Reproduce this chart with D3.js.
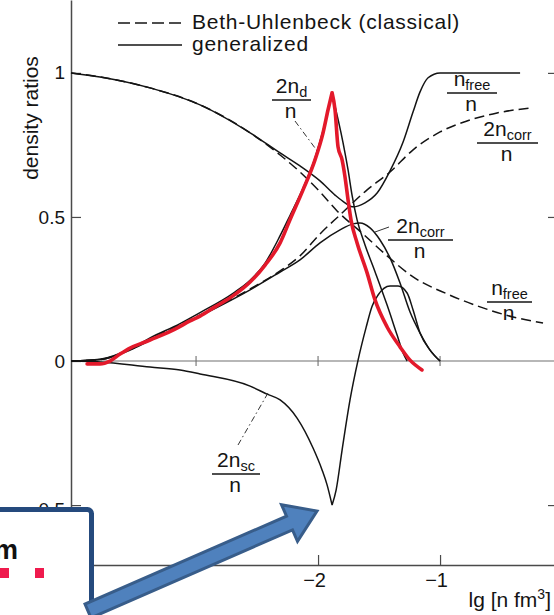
<!DOCTYPE html>
<html>
<head>
<meta charset="utf-8">
<script src="https://cdn.jsdelivr.net/npm/d3@7"></script>
<style>
  html, body { margin: 0; padding: 0; background: #fff; }
  svg { display: block; }
</style>
</head>
<body>
<svg id="chart" width="554" height="615"></svg>
<script>
// ---- density ratios vs lg(n fm^3) ----
// generalized free-nucleon fraction n_free/n
const nFreeGen = [[-4.025,1.0],[-3.787,0.986],[-3.377,0.948],[-2.967,0.889],[-2.557,0.792],[-2.311,0.722],[-2.148,0.677],[-1.984,0.625],[-1.861,0.576],[-1.779,0.549],[-1.713,0.535],[-1.615,0.549],[-1.516,0.583],[-1.410,0.660],[-1.303,0.760],[-1.221,0.865],[-1.164,0.934],[-1.098,0.983],[-1.0,1.0],[-0.836,1.0],[-0.344,1.0]];
// Beth-Uhlenbeck (classical) n_free/n
const nFreeClass = [[-4.025,1.0],[-3.787,0.986],[-3.377,0.948],[-2.967,0.889],[-2.557,0.792],[-2.311,0.715],[-2.148,0.656],[-1.984,0.587],[-1.844,0.521],[-1.631,0.441],[-1.434,0.365],[-1.221,0.292],[-0.943,0.233],[-0.672,0.188],[-0.402,0.153],[-0.156,0.132]];
// Beth-Uhlenbeck (classical) 2n_corr/n
const corrClass = [[-4.025,0],[-3.787,0.005],[-3.541,0.04],[-3.377,0.075],[-2.967,0.160],[-2.557,0.250],[-2.311,0.3125],[-2.148,0.365],[-1.984,0.441],[-1.820,0.507],[-1.598,0.594],[-1.410,0.656],[-1.221,0.733],[-1.0,0.795],[-0.779,0.833],[-0.533,0.861],[-0.262,0.878]];
// generalized 2n_corr/n
const corrGen = [[-4.025,0],[-3.787,0.005],[-3.541,0.038],[-3.377,0.072],[-2.967,0.156],[-2.557,0.247],[-2.311,0.309],[-2.148,0.351],[-1.984,0.410],[-1.820,0.455],[-1.713,0.476],[-1.656,0.479],[-1.574,0.462],[-1.492,0.420],[-1.410,0.358],[-1.328,0.271],[-1.246,0.170],[-1.164,0.097],[-1.082,0.038],[-1.0,0]];
// generalized bound-state part 2n_d/n
const dGen = [[-4.025,0],[-3.787,0.006],[-3.541,0.042],[-3.377,0.08],[-3.131,0.13],[-2.967,0.168],[-2.697,0.235],[-2.557,0.28],[-2.434,0.34],[-2.311,0.435],[-2.230,0.505],[-2.123,0.60],[-2.025,0.705],[-1.959,0.80],[-1.918,0.87],[-1.885,0.927],[-1.795,0.757],[-1.754,0.663],[-1.721,0.575],[-1.680,0.490],[-1.615,0.403],[-1.533,0.31],[-1.434,0.194],[-1.352,0.09],[-1.303,0.028],[-1.270,0]];
// generalized scattering part 2n_sc/n
const scGen = [[-4.025,0],[-3.787,-0.003],[-3.377,-0.021],[-3.131,-0.031],[-2.967,-0.045],[-2.557,-0.087],[-2.418,-0.115],[-2.311,-0.135],[-2.172,-0.198],[-2.041,-0.302],[-1.967,-0.378],[-1.926,-0.430],[-1.885,-0.5],[-1.852,-0.448],[-1.803,-0.309],[-1.738,-0.135],[-1.672,0.003],[-1.607,0.115],[-1.557,0.190],[-1.508,0.229],[-1.410,0.260],[-1.344,0.260],[-1.270,0.236],[-1.221,0.177],[-1.164,0.097],[-1.082,0.038],[-1.0,0]];
// hand-drawn red trace over the 2n_d peak
const redTrace = [[-3.893,-0.010],[-3.787,-0.010],[-3.705,0],[-3.623,0.024],[-3.541,0.045],[-3.418,0.066],[-3.295,0.087],[-3.172,0.111],[-3.049,0.139],[-2.967,0.156],[-2.844,0.188],[-2.697,0.226],[-2.557,0.274],[-2.434,0.333],[-2.311,0.410],[-2.230,0.490],[-2.123,0.594],[-2.025,0.698],[-1.959,0.792],[-1.918,0.872],[-1.885,0.931],[-1.861,0.872],[-1.836,0.743],[-1.803,0.698],[-1.779,0.639],[-1.754,0.559],[-1.730,0.490],[-1.680,0.410],[-1.598,0.306],[-1.533,0.212],[-1.434,0.118],[-1.328,0.049],[-1.246,0.003],[-1.148,-0.031]];

// axis ticks
const yTickValues = [1, 0.5, 0, -0.5];
const yTickLabels = ["1", "0.5", "0", "\u22120.5"];
const xTickValues = [-3, -2, -1];
const xTickLabels = ["", "\u22122", "\u22121"];

const svg = d3.select("#chart");
svg.append("rect").attr("width", 554).attr("height", 615).attr("fill", "#fff");

const x = d3.scaleLinear().domain([-4.025, -0.066]).range([71, 554]);
const y = d3.scaleLinear().domain([-0.708, 1.253]).range([565, 0]);

const FONT = "'Liberation Sans', Arial, sans-serif";
const INK = "#141414";

// ---- axes ----
const yAxis = d3.axisLeft(y)
  .tickValues(yTickValues)
  .tickFormat((d, i) => yTickLabels[i])
  .tickSizeInner(-10).tickSizeOuter(0).tickPadding(6);
const gy = svg.append("g").attr("transform", `translate(${x.range()[0]},0)`).call(yAxis);
gy.select(".domain").attr("stroke", "#4a4a4a").attr("stroke-width", 1.5);
gy.selectAll(".tick line").attr("stroke", "#4a4a4a").attr("stroke-width", 1.2);
gy.selectAll(".tick text").attr("font-family", FONT).attr("font-size", 19).attr("fill", INK)
  .attr("dy", d => d === -0.5 ? "0.55em" : "0.32em");

const xAxis = d3.axisBottom(x)
  .tickValues(xTickValues)
  .tickFormat((d, i) => xTickLabels[i])
  .tickSizeInner(-10).tickSizeOuter(0).tickPadding(8);
const gx = svg.append("g").attr("transform", `translate(0,${y.range()[0]})`).call(xAxis);
gx.select(".domain").attr("stroke", "#4a4a4a").attr("stroke-width", 1.5);
gx.selectAll(".tick line").attr("stroke", "#4a4a4a").attr("stroke-width", 1.2);
gx.selectAll(".tick text").attr("font-family", FONT).attr("font-size", 20).attr("fill", INK)
  .attr("dx", "-0.2em");

// inward ticks on the right frame
const yRight = d3.axisRight(y).tickValues([1, 0.5, -0.5]).tickFormat(() => "")
  .tickSizeInner(-8).tickSizeOuter(0);
const gr = svg.append("g").attr("transform", "translate(556,0)").call(yRight);
gr.select(".domain").remove();
gr.selectAll(".tick line").attr("stroke", "#4a4a4a").attr("stroke-width", 1.2);

// zero line with small cross ticks
svg.append("line")
  .attr("x1", x.range()[0]).attr("x2", x.range()[1])
  .attr("y1", y(0)).attr("y2", y(0))
  .attr("stroke", "#707070").attr("stroke-width", 1.1);
svg.selectAll(".zt").data(xTickValues).enter().append("line")
  .attr("x1", d => x(d)).attr("x2", d => x(d))
  .attr("y1", y(0) - 5).attr("y2", y(0) + 5)
  .attr("stroke", "#707070").attr("stroke-width", 1.1);

// axis titles
svg.append("text")
  .attr("transform", "translate(38,118) rotate(-90)")
  .attr("text-anchor", "middle")
  .attr("font-family", FONT).attr("font-size", 21).attr("fill", INK)
  .text("density ratios");
const xt = svg.append("text")
  .attr("x", 551).attr("y", 607).attr("text-anchor", "end")
  .attr("font-family", FONT).attr("font-size", 21).attr("fill", INK);
xt.append("tspan").text("lg [n fm");
xt.append("tspan").attr("font-size", 14).attr("dy", -8).text("3");
xt.append("tspan").attr("dy", 8).text("]");

// ---- curves ----
const line = d3.line().x(d => x(d[0])).y(d => y(d[1])).curve(d3.curveMonotoneX);
// split at a sharp cusp so the peak/valley stays pointed
function cuspPath(data, idx) {
  if (idx == null) return line(data);
  return line(data.slice(0, idx + 1)) + line(data.slice(idx));
}
function curve(data, dashed, cusp) {
  svg.append("path")
    .attr("d", cuspPath(data, cusp))
    .attr("fill", "none")
    .attr("stroke", INK)
    .attr("stroke-width", 1.5)
    .attr("stroke-linejoin", "round")
    .attr("stroke-dasharray", dashed ? "10,5" : null);
}
curve(nFreeClass, true);
curve(corrClass, true);
curve(nFreeGen, false);
curve(corrGen, false);
curve(scGen, false, d3.minIndex(scGen, d => d[1]));
curve(dGen, false, d3.maxIndex(dGen, d => d[1]));

// ---- legend ----
const legend = [
  { label: "Beth-Uhlenbeck (classical)", dashed: true, ly: 23, ty: 29 },
  { label: "generalized", dashed: false, ly: 45, ty: 51 }
];
legend.forEach(l => {
  svg.append("line").attr("x1", 118).attr("x2", 182).attr("y1", l.ly).attr("y2", l.ly)
    .attr("stroke", INK).attr("stroke-width", 1.5)
    .attr("stroke-dasharray", l.dashed ? "12,5" : null);
  svg.append("text").attr("x", 192).attr("y", l.ty)
    .attr("font-family", FONT).attr("font-size", 21).attr("letter-spacing", 0.75)
    .attr("fill", INK).text(l.label);
});

// ---- fraction labels ----
const fracs = [
  { num: "2n", sub: "d", x1: 272, x2: 311, ly: 100 },
  { num: "n", sub: "free", x1: 447, x2: 497, ly: 93 },
  { num: "2n", sub: "corr", x1: 477, x2: 538, ly: 143 },
  { num: "2n", sub: "corr", x1: 388, x2: 453, ly: 240 },
  { num: "n", sub: "free", x1: 487, x2: 532, ly: 302 },
  { num: "2n", sub: "sc", x1: 212, x2: 260, ly: 474 }
];
fracs.forEach(f => {
  const cx = (f.x1 + f.x2) / 2;
  const t = svg.append("text").attr("x", cx).attr("y", f.ly - 7)
    .attr("text-anchor", "middle").attr("font-family", FONT)
    .attr("font-size", 21).attr("fill", INK);
  t.append("tspan").text(f.num);
  t.append("tspan").attr("font-size", 14.5).attr("dy", 4).text(f.sub);
  svg.append("line").attr("x1", f.x1).attr("x2", f.x2).attr("y1", f.ly).attr("y2", f.ly)
    .attr("stroke", INK).attr("stroke-width", 1.3);
  svg.append("text").attr("x", cx - 1).attr("y", f.ly + 18)
    .attr("text-anchor", "middle").attr("font-family", FONT)
    .attr("font-size", 21).attr("fill", INK).text("n");
});

// leader lines from labels to curves
const leaders = [
  { x1: 295, y1: 121, x2: 318, y2: 152, dash: "6,3,1.5,3" },
  { x1: 238, y1: 445, x2: 268, y2: 393, dash: "6,3,1.5,3" },
  { x1: 375, y1: 232, x2: 389, y2: 227, dash: null }
];
leaders.forEach(l => {
  svg.append("line").attr("x1", l.x1).attr("y1", l.y1).attr("x2", l.x2).attr("y2", l.y2)
    .attr("stroke", "#333").attr("stroke-width", 1).attr("stroke-dasharray", l.dash);
});

// ---- red hand-drawn trace ----
svg.append("path")
  .attr("d", cuspPath(redTrace, d3.maxIndex(redTrace, d => d[1])))
  .attr("fill", "none").attr("stroke", "#e3192b").attr("stroke-width", 3.6)
  .attr("stroke-linecap", "round").attr("stroke-linejoin", "round");

// ---- overlay: callout box and arrow ----
const box = svg.append("g");
box.append("rect").attr("x", -20).attr("y", 509.5).attr("width", 111.5).attr("height", 130)
  .attr("rx", 4).attr("fill", "#fff").attr("stroke", "#254a7d").attr("stroke-width", 5);
box.append("text").attr("x", 18).attr("y", 559).attr("text-anchor", "end")
  .attr("font-family", FONT).attr("font-weight", "bold").attr("font-size", 27)
  .attr("fill", "#111").text("m");
box.selectAll(".sq").data([0, 35]).enter().append("rect")
  .attr("x", d => d).attr("y", 568).attr("width", 9).attr("height", 10)
  .attr("fill", "#ef1a4d");

// block arrow from the box toward the 2n_sc valley
(function () {
  const tail = [88, 611], tip = [317, 511];
  const dx = tip[0] - tail[0], dy = tip[1] - tail[1];
  const L = Math.hypot(dx, dy), ux = dx / L, uy = dy / L, nx = -uy, ny = ux;
  const hw = 7.5, headW = 20, headL = 30;
  const bx = tip[0] - ux * headL, by = tip[1] - uy * headL;
  const pts = [
    [tail[0] + nx * hw, tail[1] + ny * hw],
    [bx + nx * hw, by + ny * hw],
    [bx + nx * headW, by + ny * headW],
    tip,
    [bx - nx * headW, by - ny * headW],
    [bx - nx * hw, by - ny * hw],
    [tail[0] - nx * hw, tail[1] - ny * hw]
  ];
  svg.append("path").attr("d", "M" + pts.map(p => p.join(",")).join("L") + "Z")
    .attr("fill", "#4f81bd").attr("stroke", "#385d8a").attr("stroke-width", 3)
    .attr("stroke-linejoin", "miter");
})();
</script>
</body>
</html>
